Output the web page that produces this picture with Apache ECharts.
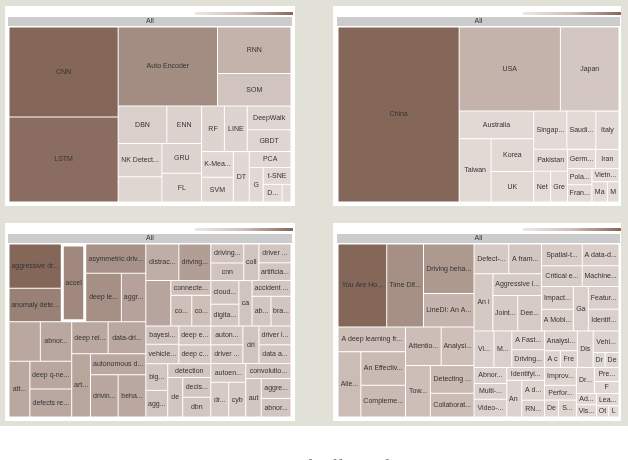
<!DOCTYPE html>
<html>
<head>
<meta charset="utf-8">
<script src="https://cdn.jsdelivr.net/npm/echarts@6/dist/echarts.min.js"></script>
<style>
html,body{margin:0;padding:0;background:#fff;}
#chart{width:628px;height:460px;}
</style>
</head>
<body>
<div id="chart"></div>
<script>
// ---------- Panel 1: methods ----------
const methodNames = ['CNN','LSTM','Auto Encoder','RNN','SOM','DBN','ENN','RF','LINE','DeepWalk','GBDT','NK Detection','MLP','GRU','FL','K-Means','SVM','DT','PCA','GAN','t-SNE','DQN','XGBoost'];
const methodCounts = [100,94.6,80,34.8,24.4,18.6,13.3,10.6,10.6,10.6,9.7,14.8,11.2,12,11.6,8.3,8,8.2,6.7,4.9,4.8,3.4,1.6];
const methodShades = [1.0,0.95,0.69,0.36,0.22,0.12,0.1,0.08,0.08,0.06,0.06,0.08,0.06,0.08,0.07,0.05,0.05,0.05,0.05,0.04,0.04,0.03,0.03];
const methodHidden = [12,22];
const methodGroups = [[0,1],[[2,[3,4]],[[[5,6],[[11,12],[13,14]]],[[[7,8],[9,10]],[[15,16],17,[18,[19,[20,[21,22]]]]]]]]];

// ---------- Panel 2: countries ----------
const countryNames = ['China','USA','Japan','Australia','Taiwan','Korea','UK','Singapore','Saudi Arabia','Italy','Pakistan','Germany','Iran','Poland','France','Netherlands','Greece','Vietnam','Macao','Morocco'];
const countryCounts = [215.9,86.7,50.2,21,20.5,14.2,13.3,12.9,11.3,9,7.5,5.5,4.6,4,4.3,5.3,5.3,3.6,3.2,2.4];
const countryShades = [1.0,0.36,0.19,0.04,0.04,0.04,0.04,0.03,0.03,0.03,0.03,0.02,0.02,0.02,0.02,0.02,0.02,0.02,0.02,0.02];
const countryHidden = [];
const countryGroups = [0,[[1,2],[[3,[4,[5,6]]],[[7,8,9],[[10,[15,16]],[11,12],[[13,14],[17,[18,19]]]]]]]];

// ---------- Panel 3: keywords ----------
const keywordNames = ['aggressive driving','anomaly detection','accel','asymmetric driving behavior','deep learning','aggression',
 'driving safety','abnormal driving','deep reinforcement learning','data-driven','attention mechanism','deep q-network','defects repetition',
 'artificial intelligence','autonomous driving','driving style','behavior analysis','distracted driving','driving behavior','driver monitoring',
 'connected vehicles','continual learning','cognitive load','driving behaviour','cnn','collision','driver distraction','artificial neural network',
 'cloud computing','digital twin','car-following','accident injury','abnormal behavior','brain-computer interface','bayesian network','vehicle dynamics',
 'deep ensemble','deep convolutional network','autonomous vehicles','driver behavior','driver fatigue','driver intention','data augmentation',
 'big data','aggressive behavior','detection','deep model','decision making','dbn','autoencoder','driving behavior analysis','cybersecurity',
 'convolutional neural network','automation','aggressive driving behavior','abnormal detection'];
const keywordCounts = [23.4,17.7,19.2,17.7,17.5,12,12.5,12.5,11.8,12.2,11.8,11.8,11.8,12,11.8,11.8,11.8,12.2,11.8,11.5,
 6,6.5,5.9,6.3,5.9,5.6,6.1,5.8,6.7,6.2,6,6.2,5.7,6,6.1,6.5,6.1,6.1,6.1,6.1,6.1,6.1,6.1,5.9,5.9,6,6,5.6,5.6,6.6,6.3,6,6.8,6,6,5.6];
const keywordShades = [1.0,0.78,0.72,0.64,0.66,0.5,0.45,0.45,0.45,0.45,0.45,0.46,0.45,0.47,0.45,0.46,0.45,0.4,0.53,0.48,
 0.25,0.25,0.25,0.22,0.22,0.22,0.2,0.2,0.2,0.2,0.22,0.2,0.2,0.2,0.22,0.2,0.18,0.18,0.18,0.18,0.22,0.18,0.18,0.2,0.22,0.2,0.2,0.2,0.2,0.16,0.16,0.16,0.2,0.2,0.2,0.2];
const keywordHidden = [6,19];
const keywordSelected = 2;
const keywordGroups = [
 [[[0,1],2,[3,[4,5]]], [[[6,7],[10,[11,12]]],[[8,9],[13,[14,[15,16]]]]]],
 [[[[17,18],[19,[20,[21,22]]]],[[[23,24],25,[26,27]],[[28,29],30,[31,[32,33]]]]],
  [[[34,35,[36,37]],[[43,44],[45,[46,[47,48]]]]],[[[38,39],40,[41,42]],[[49,50,51],[52,[53,[54,55]]]]]]]
];

// ---------- Panel 4: titles ----------
const titleNames = ['You Are How You Drive: Peer and Temporal-Aware Representation Learning','Time Diffusion Model for Driving','Driving behavior analysis','LineDI: An Anti-Collision System',
 'A deep learning framework for driving','Alleviating Driver Distraction','An Effective Method','Complementary Learning','Attention-based Model','Analysis of driving data',
 'Towards Safe Driving','Detecting Human Driver','Collaborative Perception','Defect-related','A framework for','An i','Aggressive lane change','Joint learning','Deep learning',
 'Spatial-temporal','Critical events','A data-driven approach','Machine Learning','Impact of','A Mobile app','Gaze estimation','Feature extraction','Identifying risky drivers',
 'Visual','Modeling','A Fast Transformer','Driving Behavior','Abnormal driving','Multi-CNN','Video-based','Identifying driving','An approach','A data augmentation','RNN-based',
 'Analysis of','A comparison','Frequency','Improving','Performance','Deep','Spatio','Distraction','Vehicle trajectory','Driver','Detection','Driving','Prediction','F','Adaptive','Vision','Learning','Other','Lane'];
const titleCounts = [41.2,31.1,25.5,17.3,17,15.2,15.3,14.4,14,12.9,13,12.3,10.6,10.5,9.9,11,10.8,9,8.6,
 9,8.6,8.1,7.8,7.4,7,6.8,7.1,6.8,7.4,6.7,6.3,5.9,5.3,5.3,5.9,4.9,5.6,4.6,3.9,
 6.6,2.7,2.9,5.8,4.8,2.4,3.1,5.9,5.7,1.8,2.1,4.8,3.5,3,2.3,2.5,2.8,1.4,1.2];
const titleShades = [1.0,0.66,0.58,0.34,0.26,0.28,0.3,0.3,0.27,0.25,0.26,0.3,0.28,0.16,0.2,0.17,0.16,0.15,0.15,
 0.14,0.14,0.12,0.12,0.13,0.13,0.12,0.12,0.11,0.12,0.12,0.11,0.11,0.1,0.1,0.1,0.09,0.09,0.08,0.08,
 0.1,0.08,0.08,0.07,0.07,0.06,0.06,0.08,0.08,0.06,0.06,0.05,0.05,0.05,0.04,0.04,0.04,0.03,0.03];
const titleHidden = [];
const titleGroups = [
 [[0,1,[2,3]], [[4,[5,[6,7]]],[[8,9],[10,[11,12]]]]],
 [[[[13,14],[15,[16,[17,18]]]],[[19,20,[21,22]],[[23,24],25,[26,27]]]],
  [[[28,29,[30,31]],[[32,[33,34]],[35,[36,[37,38]]]]],
   [[[39,[40,41]],46,[47,[48,49]]],[[[42,43],[44,45]],[[50,51,52],[[53,54],[55,[56,57]]]]]]]]
];

const LIGHT = '#e6ddd9', DARK = '#85675a';
function shade(t) { return echarts.color.lerp(t, [LIGHT, DARK]); }

function build(layout, names, sizes, shades, hidden, selected) {
  return layout.map(function (item) {
    if (Array.isArray(item)) {
      const kids = build(item, names, sizes, shades, hidden, selected);
      return { name: '', value: kids.reduce(function (s, k) { return s + k.value; }, 0), children: kids,
        itemStyle: { borderWidth: 0, gapWidth: 0, borderColor: '#fff' } };
    }
    const node = { name: names[item], value: sizes[item],
      itemStyle: { color: shade(shades[item]), borderWidth: item === selected ? 2.5 : 0.5, borderColor: '#fff' } };
    if (hidden.indexOf(item) >= 0) node.label = { show: false };
    return node;
  });
}

function makeSeries(box, layout, names, sizes, shades, hidden, selected) {
  const nodes = build(layout, names, sizes, shades, hidden, selected);
  const total = nodes.reduce(function (s, k) { return s + k.value; }, 0);
  return {
    type: 'treemap', left: box[0], top: box[1], width: box[2], height: box[3],
    roam: false, nodeClick: false, breadcrumb: { show: false }, sort: false, squareRatio: 1,
    animation: false, drillDownIcon: '', visibleMin: 1,
    itemStyle: { borderWidth: 0, gapWidth: 0, borderColor: '#fff' },
    label: { show: true, position: 'inside', fontSize: 7, color: '#333', padding: [0, 1],
      fontFamily: 'Liberation Sans, Arial, sans-serif', overflow: 'truncate' },
    upperLabel: { show: false },
    emphasis: { disabled: true },
    data: [{
      name: 'All', value: total,
      itemStyle: { borderColor: '#cccccc', borderWidth: 0, gapWidth: 0 },
      upperLabel: { show: true, height: 9, position: 'inside', color: '#333', fontSize: 7, padding: 0,
        fontFamily: 'Liberation Sans, Arial, sans-serif' },
      children: [{ name: '', value: total, itemStyle: { borderColor: '#fff', borderWidth: 1, gapWidth: 0 }, children: nodes }]
    }]
  };
}

const chart = echarts.init(document.getElementById('chart'), null, { renderer: 'canvas' });

function legendBar(x, y) {
  return { type: 'rect', z: 1, shape: { x: x, y: y, width: 98, height: 3 },
    style: { fill: new echarts.graphic.LinearGradient(0, 0, 1, 0, [
      { offset: 0, color: '#eee8e5' }, { offset: 0.5, color: '#cdbfb8' }, { offset: 1, color: '#85675a' }]) } };
}
function panel(x, y, w, h) {
  return { type: 'rect', z: 0, shape: { x: x, y: y, width: w, height: h }, style: { fill: '#ffffff' } };
}

chart.setOption({
  animation: false,
  graphic: [
    { type: 'rect', z: 0, shape: { x: 0, y: 0, width: 628, height: 426 }, style: { fill: '#e1e1d7' } },
    panel(5, 6, 290, 200), panel(333, 6, 288, 200), panel(5, 223, 290, 198), panel(333, 223, 288, 198),
    legendBar(195, 12), legendBar(523, 12), legendBar(195, 228), legendBar(523, 228),
    { type: 'text', z: 1, left: 14, top: 459,
      style: { text: 'Fig. 4.  Treemaps summarising the use of different fields, countries, keywords and titles',
        font: '18px Liberation Serif', fill: '#444' } }
  ],
  series: [
    makeSeries([8, 17, 284, 186], methodGroups, methodNames, methodCounts, methodShades, methodHidden, -1),
    makeSeries([337, 17, 283, 186], countryGroups, countryNames, countryCounts, countryShades, countryHidden, -1),
    makeSeries([8, 234, 284, 184], keywordGroups, keywordNames, keywordCounts, keywordShades, keywordHidden, keywordSelected),
    makeSeries([337, 234, 283, 184], titleGroups, titleNames, titleCounts, titleShades, titleHidden, -1)
  ]
});
</script>
</body>
</html>
